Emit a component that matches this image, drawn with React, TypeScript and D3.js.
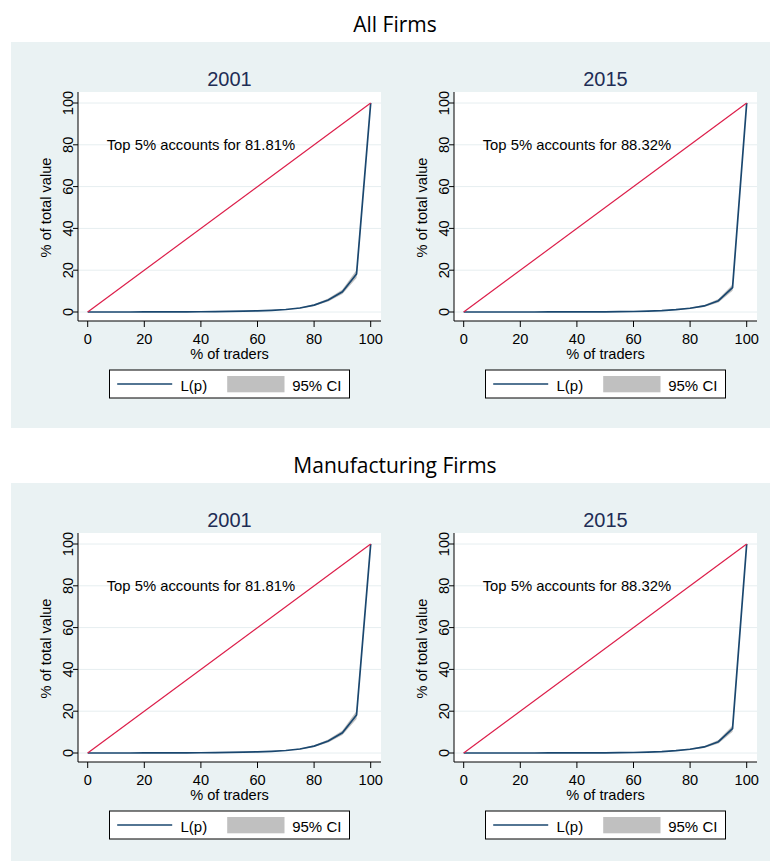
import React from "react";
import * as d3 from "d3";

// Cumulative population share (%)
const pShares = [0, 5, 10, 15, 20, 25, 30, 35, 40, 45, 50, 55, 60, 65, 70, 75, 80, 85, 90, 95, 100];

// Lorenz ordinates L(p), % of total value
const lorenz2001 = [0, 0, 0, 0.01, 0.02, 0.03, 0.05, 0.08, 0.12, 0.18, 0.26, 0.38, 0.55, 0.8, 1.2, 1.9, 3.3, 5.7, 9.7, 18.19, 100];
const lo2001 = [0, 0, 0, 0.01, 0.02, 0.03, 0.04, 0.07, 0.1, 0.15, 0.22, 0.32, 0.47, 0.7, 1.05, 1.65, 2.9, 5.0, 8.6, 16.3, 100];
const hi2001 = [0, 0, 0, 0.01, 0.02, 0.04, 0.06, 0.09, 0.14, 0.21, 0.3, 0.44, 0.63, 0.92, 1.35, 2.15, 3.7, 6.4, 10.8, 20.1, 100];

const lorenz2015 = [0, 0, 0, 0, 0.01, 0.01, 0.02, 0.03, 0.05, 0.07, 0.1, 0.15, 0.25, 0.4, 0.65, 1.1, 1.8, 2.9, 5.4, 11.68, 100];
const lo2015 = [0, 0, 0, 0, 0.01, 0.01, 0.01, 0.02, 0.04, 0.06, 0.08, 0.12, 0.2, 0.33, 0.55, 0.93, 1.5, 2.4, 4.6, 10.2, 100];
const hi2015 = [0, 0, 0, 0, 0.01, 0.02, 0.03, 0.04, 0.06, 0.09, 0.12, 0.18, 0.3, 0.47, 0.75, 1.27, 2.1, 3.4, 6.2, 13.2, 100];

const equality = [0, 100];
const xTicks = [0, 20, 40, 60, 80, 100];
const yTicks = [0, 20, 40, 60, 80, 100];

const groupTitles = ["All Firms", "Manufacturing Firms"];
const panelYears = ["2001", "2015"];
const annotations = ["Top 5% accounts for 81.81%", "Top 5% accounts for 88.32%"];

const xTitle = "% of traders";
const yTitle = "% of total value";
const legendLine = "L(p)";
const legendCI = "95% CI";

const AX_FONT = "'Liberation Sans', Arial, sans-serif";
const TITLE_FONT = "'Open Sans', 'Noto Sans', sans-serif";
const BG = "#eaf2f3";
const NAVY = "#1a476f";
const RED = "#dc1e4a";
const GREY = "#c0c0c0";
const AXF = 14.6;

type PanelProps = {
  left: number;
  top: number;
  year: string;
  L: number[];
  lo: number[];
  hi: number[];
  note: string;
};

function Panel({ left, top, year, L, lo, hi, note }: PanelProps) {
  const W = 303;
  const H = 229;
  const x = d3.scaleLinear().domain([0, 100]).range([left + 9.7, left + W - 10.3]);
  const y = d3.scaleLinear().domain([0, 100]).range([top + 220, top + 11]);

  const area = d3
    .area<number>()
    .x((_, i) => x(pShares[i]))
    .y0((_, i) => y(lo[i]))
    .y1((_, i) => y(hi[i]));
  const line = d3
    .line<number>()
    .x((_, i) => x(pShares[i]))
    .y((d) => y(d));
  const eqLine = d3
    .line<number>()
    .x((d) => x(d))
    .y((d) => y(d));

  const cx = left + W / 2;
  const legL = cx - 120;
  const legT = top + H + 49;

  return (
    <g>
      <text x={cx} y={top - 6} textAnchor="middle" fontFamily={AX_FONT} fontSize={20} fill="#1e2d55">
        {year}
      </text>
      <rect x={left} y={top} width={W} height={H} fill="#ffffff" />
      {yTicks.map((t) => (
        <line key={"g" + t} x1={left} x2={left + W} y1={y(t)} y2={y(t)} stroke="#e6eef0" strokeWidth={1} />
      ))}
      <path d={area(lo) || ""} fill={GREY} stroke="none" />
      <path d={line(L) || ""} fill="none" stroke={NAVY} strokeWidth={1.7} />
      <path d={eqLine(equality) || ""} fill="none" stroke={RED} strokeWidth={1.2} />
      <text x={x(40)} y={y(80) + 5.3} textAnchor="middle" fontFamily={AX_FONT} fontSize={14.8} fill="#000">
        {note}
      </text>
      {/* axes */}
      <line x1={left} x2={left} y1={top} y2={top + H} stroke="#000" strokeWidth={1} />
      <line x1={left} x2={left + W} y1={top + H} y2={top + H} stroke="#000" strokeWidth={1} />
      {yTicks.map((t) => (
        <g key={"y" + t}>
          <line x1={left - 5} x2={left} y1={y(t)} y2={y(t)} stroke="#000" />
          <text
            transform={`translate(${left - 5},${y(t)}) rotate(-90)`}
            textAnchor="middle"
            fontFamily={AX_FONT}
            fontSize={AXF}
            fill="#000"
          >
            {t}
          </text>
        </g>
      ))}
      {xTicks.map((t) => (
        <g key={"x" + t}>
          <line x1={x(t)} x2={x(t)} y1={top + H} y2={top + H + 6} stroke="#000" />
          <text x={x(t)} y={top + H + 23} textAnchor="middle" fontFamily={AX_FONT} fontSize={AXF} fill="#000">
            {t}
          </text>
        </g>
      ))}
      <text x={cx} y={top + H + 37.5} textAnchor="middle" fontFamily={AX_FONT} fontSize={AXF} fill="#000">
        {xTitle}
      </text>
      <text
        transform={`translate(${left - 27.5},${(y(0) + y(100)) / 2}) rotate(-90)`}
        textAnchor="middle"
        fontFamily={AX_FONT}
        fontSize={AXF}
        fill="#000"
      >
        {yTitle}
      </text>
      {/* legend */}
      <rect x={legL} y={legT} width={240} height={28} fill="#fff" stroke="#000" strokeWidth={1} />
      <line x1={legL + 7.7} x2={legL + 62.7} y1={legT + 14} y2={legT + 14} stroke={NAVY} strokeWidth={1.4} />
      <text x={legL + 71} y={legT + 20.5} fontFamily={AX_FONT} fontSize={15} fill="#000">
        {legendLine}
      </text>
      <rect x={legL + 117.7} y={legT + 6} width={57.3} height={16.3} fill={GREY} />
      <text x={legL + 182.7} y={legT + 20.5} fontFamily={AX_FONT} fontSize={15} fill="#000">
        {legendCI}
      </text>
    </g>
  );
}

export default function App() {
  const groupOffsets = [0, 441];
  const panelLefts = [78, 454];
  const series = [
    { L: lorenz2001, lo: lo2001, hi: hi2001 },
    { L: lorenz2015, lo: lo2015, hi: hi2015 },
  ];
  return (
    <svg
      width={770}
      height={861}
      style={{ position: "absolute", left: 0, top: 0, background: "#fff" }}
    >
      {groupTitles.map((gt, gi) => {
        const off = groupOffsets[gi];
        return (
          <g key={gt}>
            <text x={395} y={31.5 + off} textAnchor="middle" fontFamily={TITLE_FONT} fontSize={21} fill="#000">
              {gt}
            </text>
            <rect x={11} y={42 + off} width={759} height={gi === 0 ? 386 : 378} fill={BG} />
            {panelYears.map((yr, pi) => (
              <Panel
                key={yr}
                left={panelLefts[pi]}
                top={92 + off}
                year={yr}
                L={series[pi].L}
                lo={series[pi].lo}
                hi={series[pi].hi}
                note={annotations[pi]}
              />
            ))}
          </g>
        );
      })}
    </svg>
  );
}
